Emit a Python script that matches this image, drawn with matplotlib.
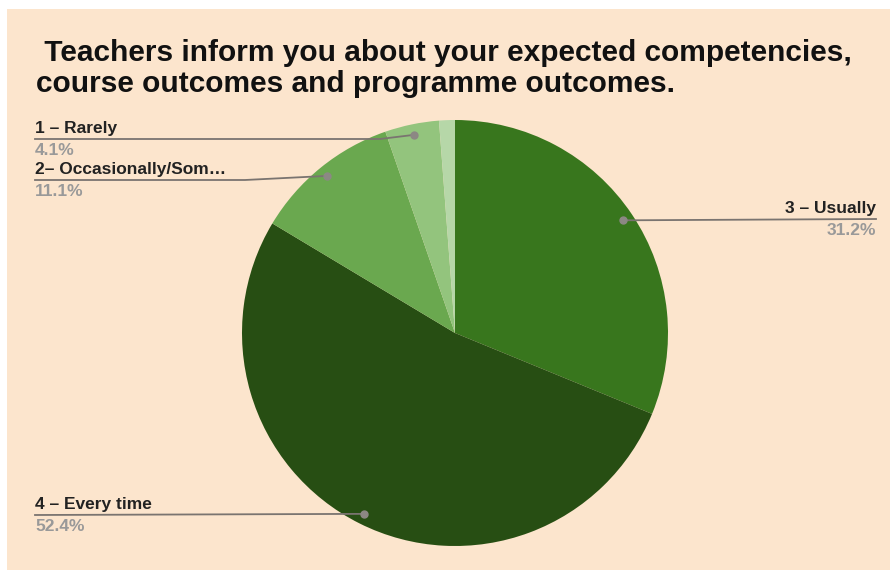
import math
import matplotlib.pyplot as plt
from matplotlib.patches import Rectangle

# data
labels = ['3 – Usually', '4 – Every time', '2– Occasionally/Som…', '1 – Rarely', '']
values = [31.2, 52.4, 11.1, 4.1, 1.2]
colors = ['#38761d', '#274e13', '#6aa84f', '#93c47d', '#b6d7a8']
pct_text = ['31.2%', '52.4%', '11.1%', '4.1%', '']

W, H = 890, 570
BG = '#fce5cd'


def px(x, y):
    # pixel (from top-left) -> figure fraction
    return x / W, 1 - y / H


plt.rcParams['font.family'] = ['Liberation Sans', 'DejaVu Sans']

fig = plt.figure(figsize=(W / 100, H / 100), dpi=100, facecolor='white')
fig.patches.append(Rectangle(px(7, 570), (W - 7) / W, (570 - 9) / H,
                             transform=fig.transFigure, facecolor=BG,
                             edgecolor='none', zorder=-10))

cx, cy, r = 455, 333, 213
ax = fig.add_axes([(cx - r) / W, (H - cy - r) / H, 2 * r / W, 2 * r / H])
ax.set_facecolor('none')
ax.pie(values, colors=colors, startangle=90, counterclock=False,
       wedgeprops=dict(linewidth=0))
ax.set_xlim(-1, 1)
ax.set_ylim(-1, 1)
ax.set_aspect('auto')
ax.axis('off')

fig.text(*px(36, 39), ' Teachers inform you about your expected competencies,\ncourse outcomes and programme outcomes.',
         fontsize=21.5, fontweight='bold', color='#111111', va='top', ha='left',
         linespacing=1.15)

# label placement: (side, text x, underline y, elbow x)
layout = {
    0: ('right', 876, 219, None),
    1: ('left', 35, 515, None),
    2: ('left', 35, 180, 245),
    3: ('left', 35, 139, 380),
}

to_fig = fig.transFigure.inverted()
cum = 0.0
total = sum(values)
for i, v in enumerate(values):
    mid = (cum + v / 2) / total
    cum += v
    if i not in layout:
        continue
    ang = math.radians(90 - mid * 360)
    dx, dy = 0.95 * math.cos(ang), 0.95 * math.sin(ang)
    fx, fy = to_fig.transform(ax.transData.transform((dx, dy)))
    side, tx, uy, elbow = layout[i]
    ux, uyf = px(tx, uy)
    if elbow is not None:
        ex, _ = px(elbow, uy)
        xs, ys = [ux, ex, fx], [uyf, uyf, fy]
    else:
        xs, ys = [ux, fx], [uyf, fy]
    fig.add_artist(plt.Line2D(xs, ys, transform=fig.transFigure,
                              color='#7a7470', linewidth=1.3))
    fig.add_artist(plt.Line2D([fx], [fy], transform=fig.transFigure,
                              marker='o', markersize=5, color='#8c8884',
                              linestyle='none'))
    ha = 'left' if side == 'left' else 'right'
    fig.text(*px(tx, uy - 3), labels[i], fontsize=12.5, fontweight='bold',
             color='#222222', ha=ha, va='bottom')
    fig.text(*px(tx, uy + 4), pct_text[i], fontsize=12.5, fontweight='bold',
             color='#999999', ha=ha, va='top')

fig.savefig('out.png', dpi=100, facecolor='white')
